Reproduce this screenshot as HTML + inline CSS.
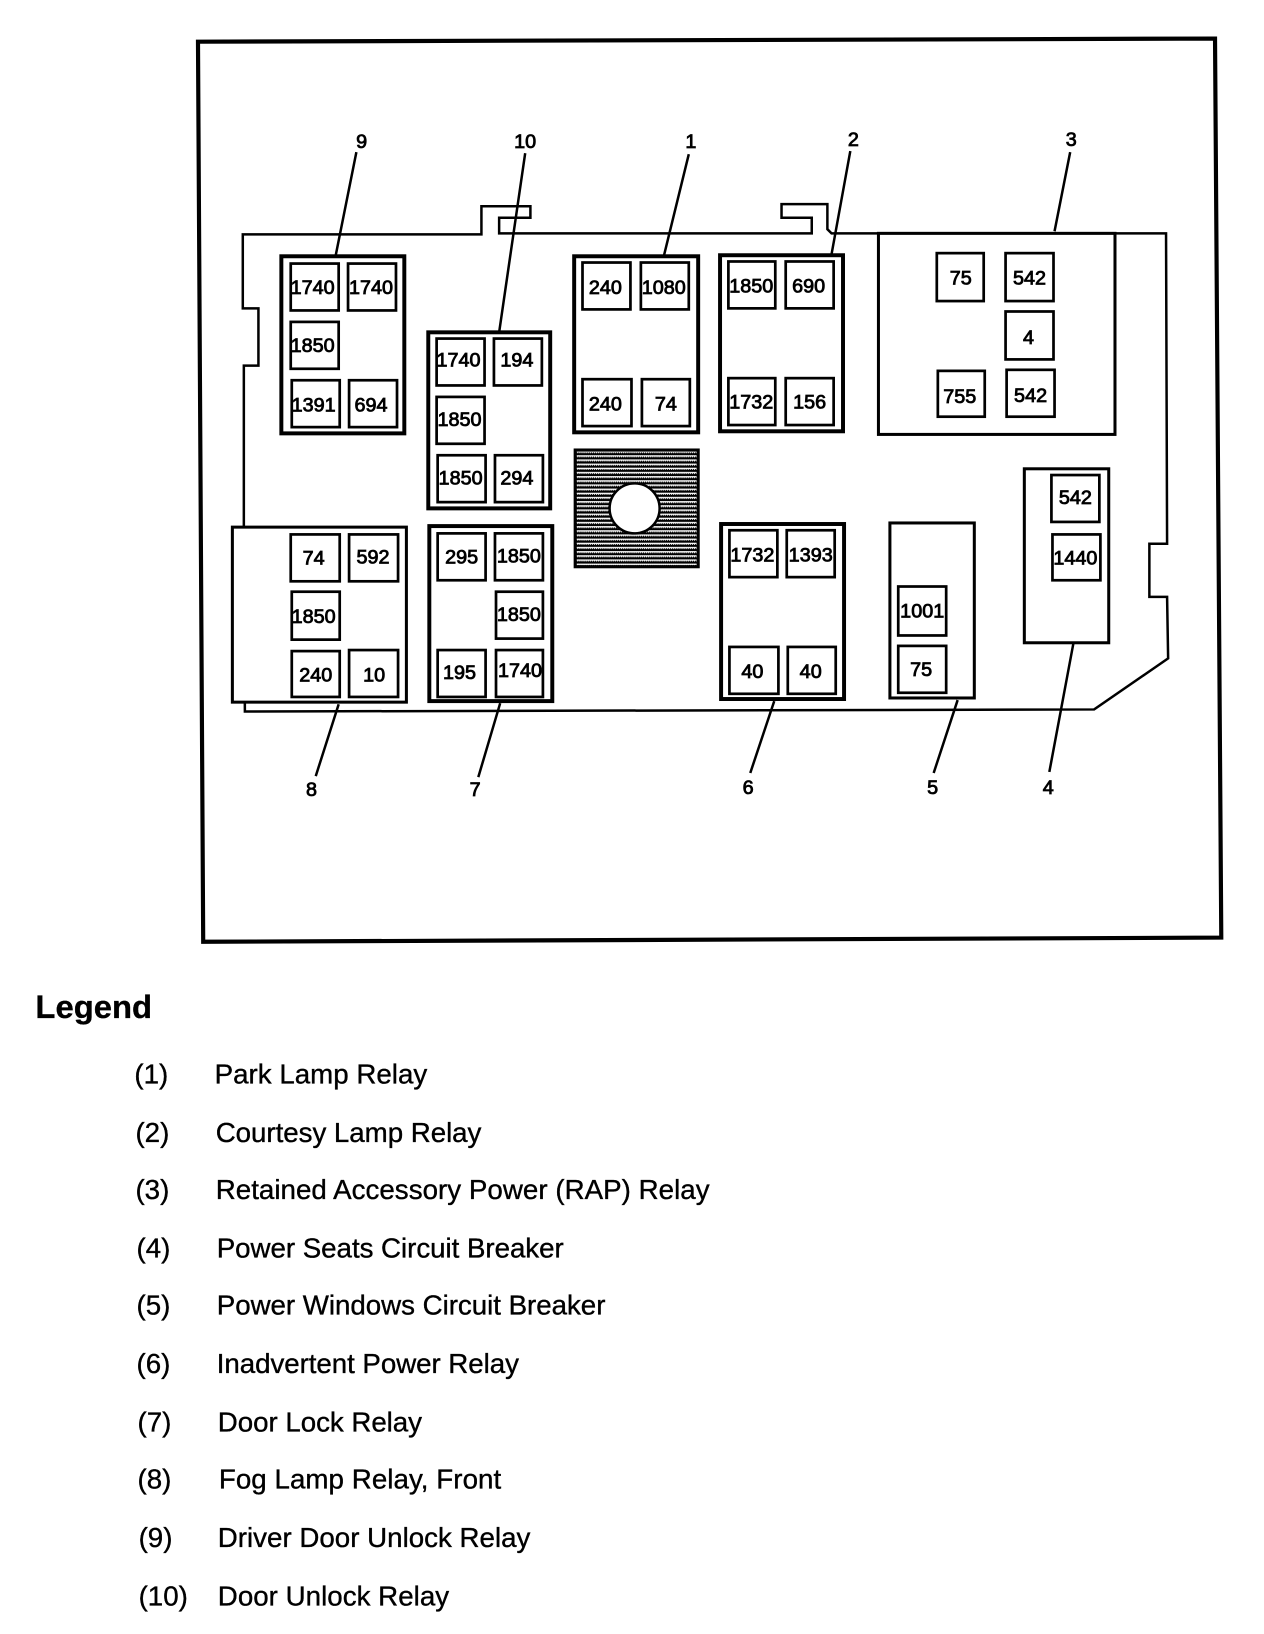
<!DOCTYPE html>
<html><head><meta charset="utf-8"><style>
html,body{margin:0;padding:0;background:#fff;width:1264px;height:1634px;overflow:hidden}
svg{display:block}
text{font-family:"Liberation Sans",sans-serif;fill:#000}
.g{fill:#fff;stroke:#000;stroke-width:3.8}
.g2{fill:#fff;stroke:#000;stroke-width:2.9}
.b{fill:#fff;stroke:#000;stroke-width:2.6}
.n{font-size:19px;text-anchor:middle;stroke:#000;stroke-width:.8}
.l{stroke:#000;stroke-width:2.4;fill:none}
.t{font-size:26.6px;stroke:#000;stroke-width:.35}
</style></head><body>
<svg width="1264" height="1634" viewBox="0 0 1213 1568.5" preserveAspectRatio="none" xmlns="http://www.w3.org/2000/svg">
<defs><pattern id="h" width="2" height="4" patternUnits="userSpaceOnUse"><rect width="2" height="4" fill="#000"/><rect y="1" width="2" height="1.2" fill="#fff"/><rect y="2.2" width="1" height=".8" fill="#fff"/></pattern></defs>
<rect width="1213" height="1569" fill="#fff"/>
<polygon points="190,40 1166,37 1172,900 195,904" fill="none" stroke="#000" stroke-width="4"/>
<path class="l" d="M233,225 H462 V198 H509 V209 H479 V224 H779 V209 H750 V196 H794 V220 L798,224 H1119 L1120,522 H1103 V573 H1120 L1121,632 L1050,681 L235,683 L234,505 V351 H248 V296 H233 Z"/>
<path class="l" d="M342,146 L322,246 M504,147 L479,319 M661,148 L637,246 M816,145 L798,244 M1027,146 L1012,222 M325,676 L303,745 M480,675 L459,746 M743,673 L720,742 M919,672 L896,742 M1030,618 L1007,741"/>
<rect class="g" x="270" y="246" width="118" height="170"/>
<rect class="g" x="411" y="319" width="117" height="169"/>
<rect class="g" x="551" y="246" width="119" height="169"/>
<rect class="g" x="691" y="245" width="118" height="169"/>
<rect class="g2" x="843" y="224" width="227" height="193"/>
<rect class="g2" x="983" y="450" width="81" height="167"/>
<rect class="g2" x="854" y="502" width="81" height="168"/>
<rect class="g" x="692" y="503" width="118" height="168"/>
<rect class="g" x="412" y="505" width="118" height="168"/>
<rect class="g2" x="223" y="506" width="167" height="168"/>
<rect x="552" y="432" width="118" height="112" fill="url(#h)" stroke="#000" stroke-width="3"/>
<circle cx="609" cy="488" r="24" fill="#fff" stroke="#000" stroke-width="2.4"/>
<rect class="b" x="279" y="253" width="46" height="45"/><rect class="b" x="334" y="253" width="46" height="45"/><rect class="b" x="279" y="309" width="46" height="45"/><rect class="b" x="280" y="365" width="46" height="45"/><rect class="b" x="335" y="365" width="46" height="45"/>
<rect class="b" x="419" y="325" width="46" height="45"/><rect class="b" x="474" y="325" width="46" height="45"/><rect class="b" x="419" y="381" width="46" height="45"/><rect class="b" x="420" y="437" width="46" height="45"/><rect class="b" x="475" y="437" width="46" height="45"/>
<rect class="b" x="559" y="252" width="46" height="45"/><rect class="b" x="615" y="252" width="46" height="45"/><rect class="b" x="559" y="364" width="47" height="45"/><rect class="b" x="616" y="364" width="46" height="45"/>
<rect class="b" x="699" y="251" width="45" height="45"/><rect class="b" x="754" y="251" width="46" height="45"/><rect class="b" x="699" y="363" width="45" height="45"/><rect class="b" x="754" y="363" width="46" height="45"/>
<rect class="b" x="899" y="243" width="45" height="46"/><rect class="b" x="965" y="243" width="46" height="46"/><rect class="b" x="965" y="299" width="46" height="46"/><rect class="b" x="900" y="356" width="45" height="44"/><rect class="b" x="966" y="355" width="46" height="45"/>
<rect class="b" x="1009" y="456" width="46" height="45"/><rect class="b" x="1010" y="513" width="46" height="44"/>
<rect class="b" x="862" y="563" width="46" height="47"/><rect class="b" x="862" y="620" width="46" height="45"/>
<rect class="b" x="700" y="509" width="46" height="45"/><rect class="b" x="755" y="509" width="46" height="45"/><rect class="b" x="700" y="621" width="47" height="45"/><rect class="b" x="756" y="621" width="46" height="45"/>
<rect class="b" x="420" y="512" width="46" height="45"/><rect class="b" x="475" y="512" width="46" height="45"/><rect class="b" x="476" y="568" width="45" height="45"/><rect class="b" x="420" y="624" width="46" height="45"/><rect class="b" x="476" y="624" width="45" height="45"/>
<rect class="b" x="279" y="513" width="47" height="45"/><rect class="b" x="335" y="513" width="47" height="45"/><rect class="b" x="280" y="568" width="46" height="46"/><rect class="b" x="280" y="625" width="46" height="44"/><rect class="b" x="335" y="624" width="47" height="45"/>
<g transform="translate(0,-1)">
<text class="n" x="300" y="283">1740</text><text class="n" x="356" y="283">1740</text><text class="n" x="300" y="339">1850</text><text class="n" x="301" y="396">1391</text><text class="n" x="356" y="396">694</text>
<text class="n" x="440" y="353">1740</text><text class="n" x="496" y="353">194</text><text class="n" x="441" y="410">1850</text><text class="n" x="442" y="466">1850</text><text class="n" x="496" y="466">294</text>
<text class="n" x="581" y="283">240</text><text class="n" x="637" y="283">1080</text><text class="n" x="581" y="395">240</text><text class="n" x="639" y="395">74</text>
<text class="n" x="721" y="282">1850</text><text class="n" x="776" y="282">690</text><text class="n" x="721" y="393">1732</text><text class="n" x="777" y="393">156</text>
<text class="n" x="922" y="274">75</text><text class="n" x="988" y="274">542</text><text class="n" x="987" y="331">4</text><text class="n" x="921" y="388">755</text><text class="n" x="989" y="387">542</text>
<text class="n" x="1032" y="485">542</text><text class="n" x="1032" y="543">1440</text>
<text class="n" x="885" y="594">1001</text><text class="n" x="884" y="650">75</text>
<text class="n" x="722" y="540">1732</text><text class="n" x="778" y="540">1393</text><text class="n" x="722" y="652">40</text><text class="n" x="778" y="652">40</text>
<text class="n" x="443" y="542">295</text><text class="n" x="498" y="541">1850</text><text class="n" x="498" y="597">1850</text><text class="n" x="441" y="653">195</text><text class="n" x="499" y="651">1740</text>
<text class="n" x="301" y="543">74</text><text class="n" x="358" y="542">592</text><text class="n" x="301" y="599">1850</text><text class="n" x="303" y="655">240</text><text class="n" x="359" y="655">10</text>
<text class="n" x="347" y="143">9</text><text class="n" x="504" y="143">10</text><text class="n" x="663" y="143">1</text><text class="n" x="819" y="141">2</text><text class="n" x="1028" y="141">3</text>
<text class="n" x="299" y="765">8</text><text class="n" x="456" y="765">7</text><text class="n" x="718" y="763">6</text><text class="n" x="895" y="763">5</text><text class="n" x="1006" y="763">4</text>
</g>
<text x="34" y="977" font-size="31.5" font-weight="700" stroke="#000" stroke-width=".3">Legend</text>
<text class="t" x="129" y="1040">(1)</text><text class="t" x="206" y="1040" textLength="204">Park Lamp Relay</text>
<text class="t" x="130" y="1096">(2)</text><text class="t" x="207" y="1096" textLength="255">Courtesy Lamp Relay</text>
<text class="t" x="130" y="1151">(3)</text><text class="t" x="207" y="1151" textLength="474">Retained Accessory Power (RAP) Relay</text>
<text class="t" x="131" y="1207">(4)</text><text class="t" x="208" y="1207" textLength="333">Power Seats Circuit Breaker</text>
<text class="t" x="131" y="1262">(5)</text><text class="t" x="208" y="1262" textLength="373">Power Windows Circuit Breaker</text>
<text class="t" x="131" y="1318">(6)</text><text class="t" x="208" y="1318" textLength="290">Inadvertent Power Relay</text>
<text class="t" x="132" y="1374">(7)</text><text class="t" x="209" y="1374" textLength="196">Door Lock Relay</text>
<text class="t" x="132" y="1429">(8)</text><text class="t" x="210" y="1429" textLength="271">Fog Lamp Relay, Front</text>
<text class="t" x="133" y="1485">(9)</text><text class="t" x="209" y="1485" textLength="300">Driver Door Unlock Relay</text>
<text class="t" x="133" y="1541">(10)</text><text class="t" x="209" y="1541" textLength="222">Door Unlock Relay</text>
</svg>
</body></html>
